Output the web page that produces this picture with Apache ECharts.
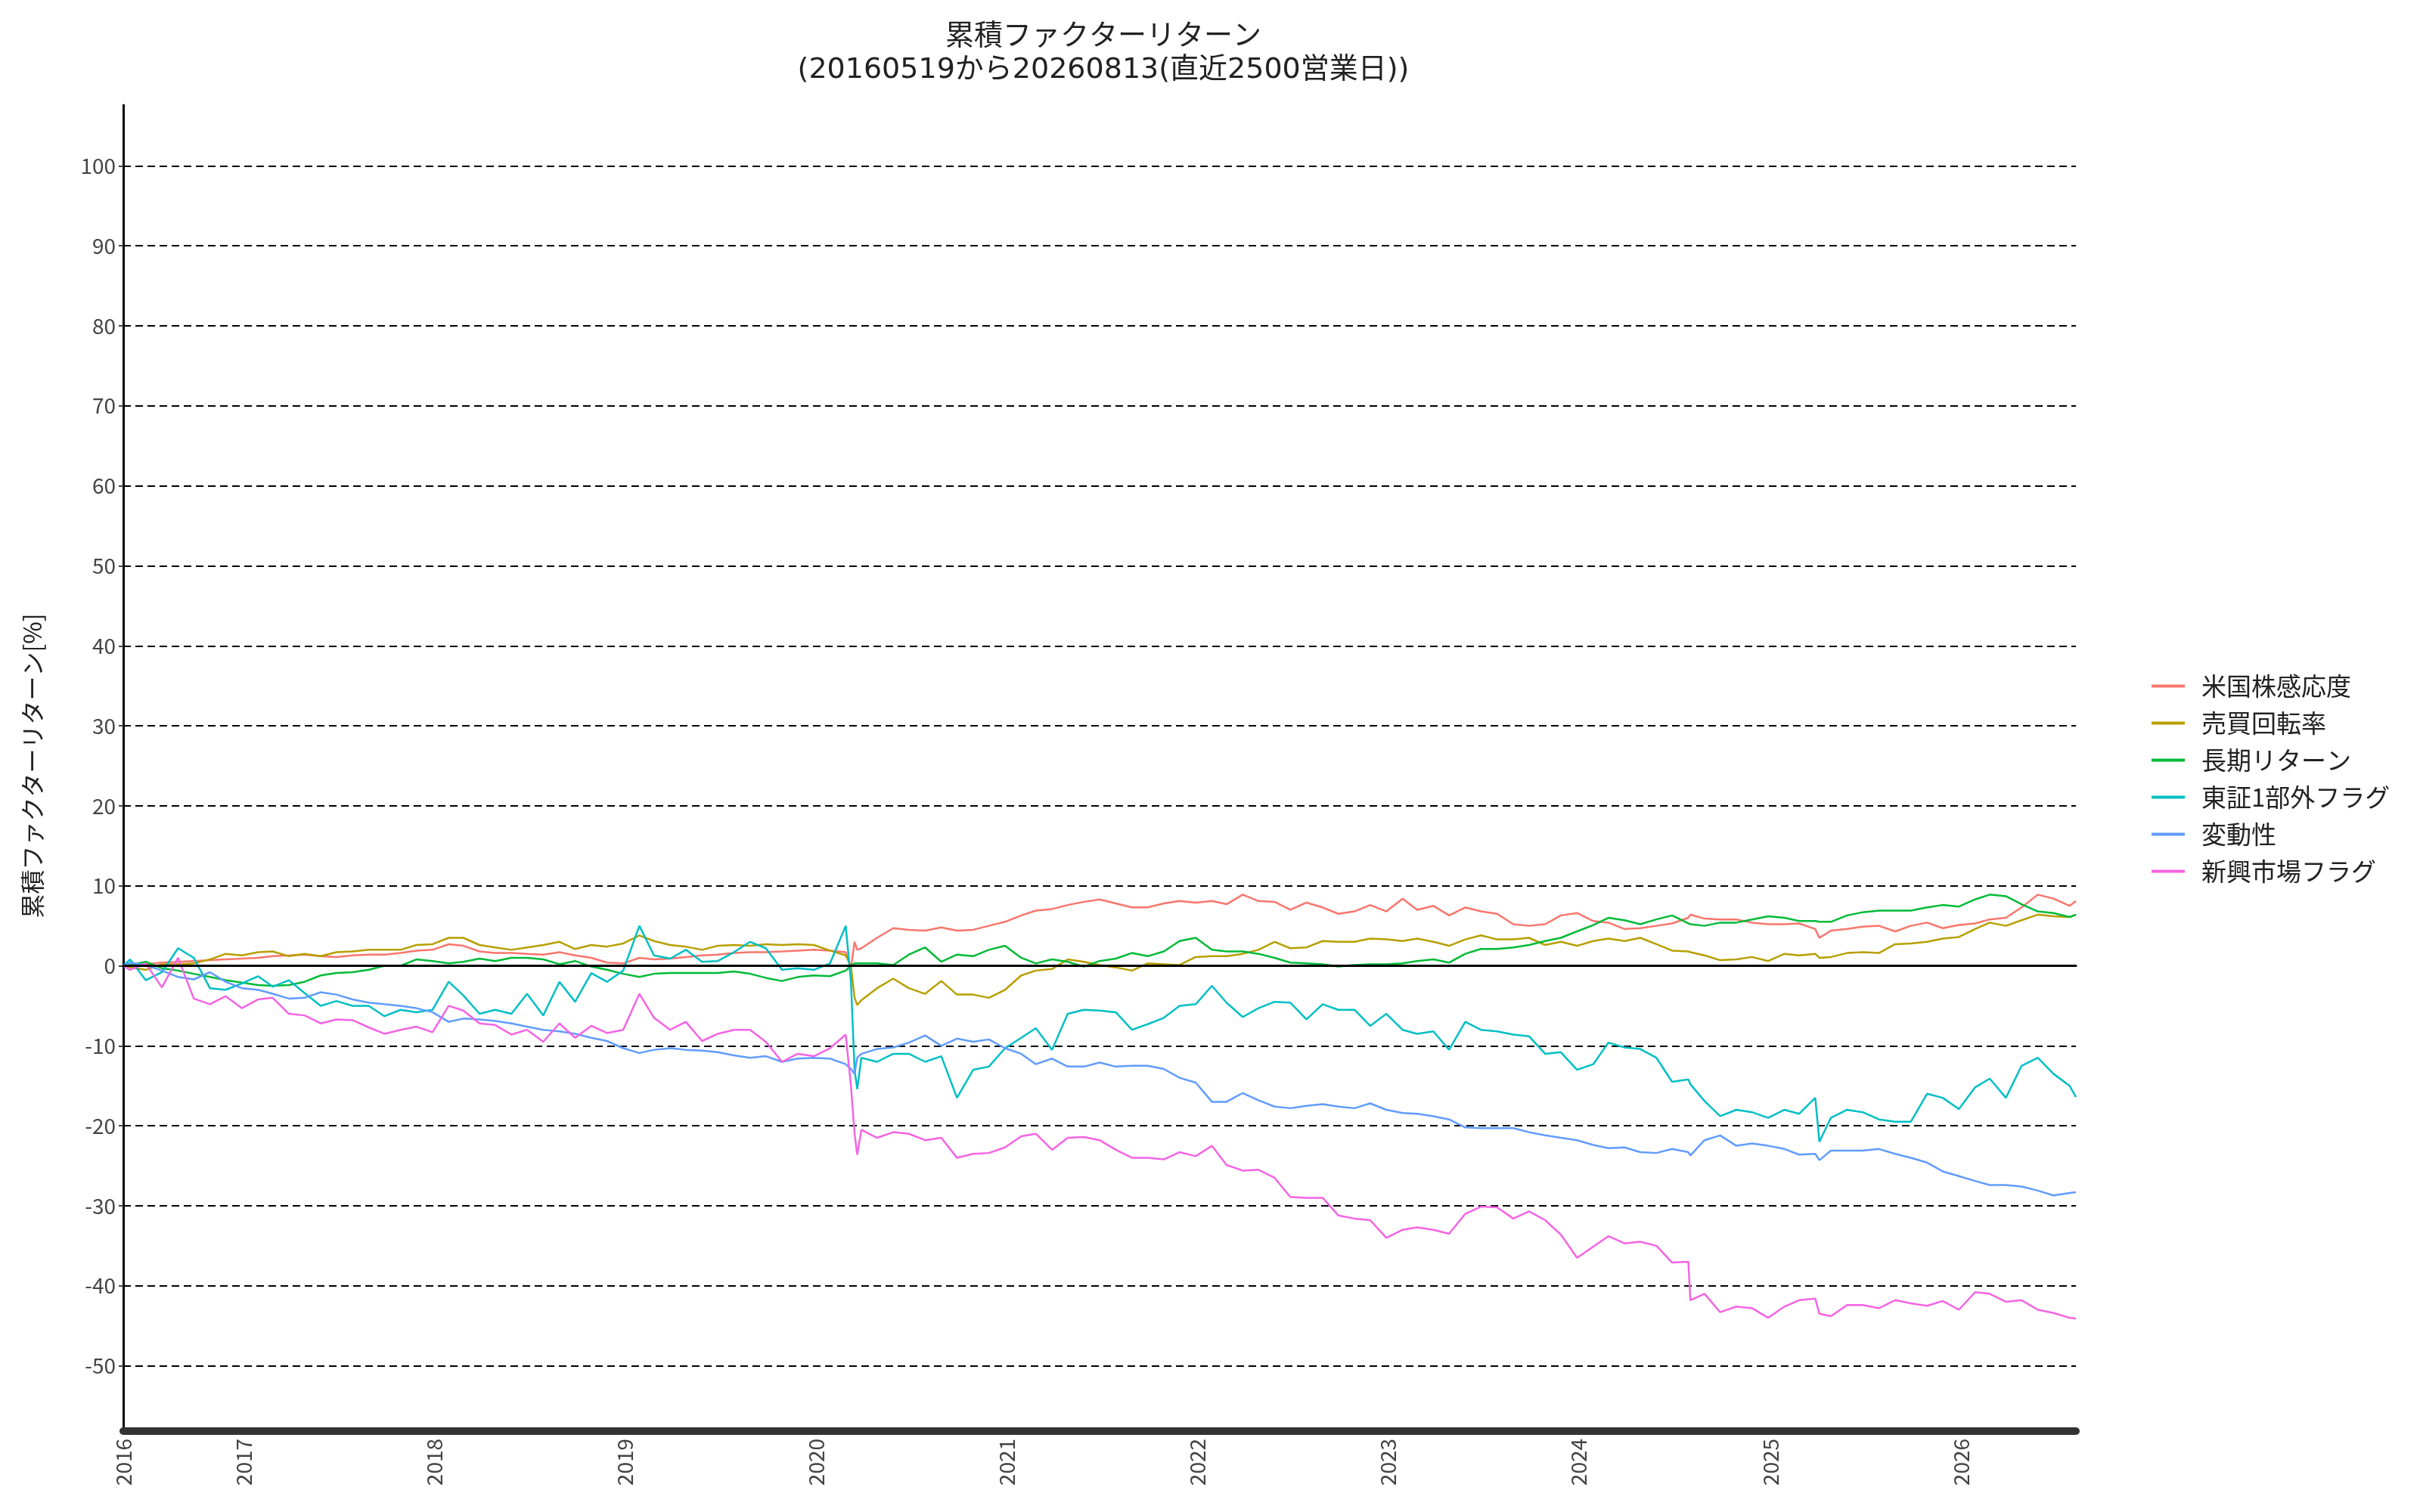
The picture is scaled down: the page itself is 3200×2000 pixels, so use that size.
<!DOCTYPE html>
<html>
<head>
<meta charset="utf-8">
<script src="https://cdn.jsdelivr.net/npm/echarts@6/dist/echarts.min.js"></script>
<style>
html, body { margin: 0; padding: 0; background: #fff; }
#chart { width: 3200px; height: 2000px; }
</style>
</head>
<body>
<div id="chart"></div>
<script>
// 日付 (月初サンプル + 急変日)
var dates = [
  '2016-05-19','2016-06-01','2016-07-01','2016-08-01','2016-09-01','2016-10-01','2016-11-01','2016-12-01',
  '2017-01-01','2017-02-01','2017-03-01','2017-04-01','2017-05-01','2017-06-01','2017-07-01','2017-08-01','2017-09-01','2017-10-01','2017-11-01','2017-12-01',
  '2018-01-01','2018-02-01','2018-03-01','2018-04-01','2018-05-01','2018-06-01','2018-07-01','2018-08-01','2018-09-01','2018-10-01','2018-11-01','2018-12-01',
  '2019-01-01','2019-02-01','2019-03-01','2019-04-01','2019-05-01','2019-06-01','2019-07-01','2019-08-01','2019-09-01','2019-10-01','2019-11-01','2019-12-01',
  '2020-01-01','2020-02-01','2020-03-02','2020-03-12','2020-03-19','2020-03-24','2020-04-01','2020-05-01','2020-06-01','2020-07-01','2020-08-01','2020-09-01','2020-10-01','2020-11-01','2020-12-01',
  '2021-01-01','2021-02-01','2021-03-01','2021-04-01','2021-05-01','2021-06-01','2021-07-01','2021-08-01','2021-09-01','2021-10-01','2021-11-01','2021-12-01',
  '2022-01-01','2022-02-01','2022-03-01','2022-04-01','2022-05-01','2022-06-01','2022-07-01','2022-08-01','2022-09-01','2022-10-01','2022-11-01','2022-12-01',
  '2023-01-01','2023-02-01','2023-03-01','2023-04-01','2023-05-01','2023-06-01','2023-07-01','2023-08-01','2023-09-01','2023-10-01','2023-11-01','2023-12-01',
  '2024-01-01','2024-02-01','2024-03-01','2024-04-01','2024-05-01','2024-06-01','2024-07-01','2024-08-01','2024-08-05','2024-09-01','2024-10-01','2024-11-01','2024-12-01',
  '2025-01-01','2025-02-01','2025-03-01','2025-04-01','2025-04-09','2025-05-01','2025-06-01','2025-07-01','2025-08-01','2025-09-01','2025-10-01','2025-11-01','2025-12-01',
  '2026-01-01','2026-02-01','2026-03-01','2026-04-01','2026-05-01','2026-06-01','2026-07-01','2026-08-01','2026-08-13'
];

var names = ['米国株感応度', '売買回転率', '長期リターン', '東証1部外フラグ', '変動性', '新興市場フラグ'];
var colors = ['#F8766D', '#B79F00', '#00BA38', '#00BFC4', '#619CFF', '#F564E3'];

// 年ラベル位置 (各年の最初の営業日)
var yearTicks = ['2016-05-19','2017-01-04','2018-01-04','2019-01-04','2020-01-06','2021-01-04',
  '2022-01-04','2023-01-04','2024-01-04','2025-01-06','2026-01-05'];

var usBeta = [
  0, 0.1, 0.2, 0.4, 0.5, 0.6, 0.7, 0.8,
  0.9, 1.0, 1.2, 1.3, 1.4, 1.2, 1.1, 1.3, 1.4, 1.4, 1.6, 1.9,
  2.0, 2.7, 2.5, 1.8, 1.6, 1.6, 1.5, 1.4, 1.7, 1.3, 1.0, 0.4,
  0.3, 1.0, 0.8, 0.9, 1.1, 1.3, 1.4, 1.6, 1.7, 1.7, 1.8, 1.9,
  2.0, 1.9, 1.7, -0.3, 3.0, 2.0, 2.2, 3.5, 4.7, 4.5, 4.4, 4.8, 4.4, 4.5, 5.0,
  5.5, 6.3, 6.9, 7.1, 7.6, 8.0, 8.3, 7.8, 7.3, 7.3, 7.8, 8.1,
  7.9, 8.1, 7.7, 8.9, 8.1, 8.0, 7.0, 7.9, 7.3, 6.5, 6.8, 7.6,
  6.8, 8.4, 7.0, 7.5, 6.3, 7.3, 6.8, 6.5, 5.2, 5.0, 5.2, 6.3,
  6.6, 5.6, 5.4, 4.6, 4.7, 5.0, 5.3, 6.0, 6.4, 5.9, 5.8, 5.8, 5.4,
  5.2, 5.2, 5.3, 4.6, 3.5, 4.4, 4.6, 4.9, 5.0, 4.3, 5.0, 5.4, 4.7,
  5.1, 5.3, 5.8, 6.0, 7.3, 8.9, 8.4, 7.5, 8.1
];

var turnover = [
  0, -0.2, -0.5, 0.2, 0.2, 0.3, 0.8, 1.5,
  1.3, 1.7, 1.8, 1.2, 1.5, 1.2, 1.7, 1.8, 2.0, 2.0, 2.0, 2.6,
  2.7, 3.5, 3.5, 2.6, 2.3, 2.0, 2.3, 2.6, 3.0, 2.1, 2.6, 2.4,
  2.8, 3.8, 3.1, 2.6, 2.4, 2.0, 2.5, 2.6, 2.5, 2.7, 2.6, 2.7,
  2.6, 1.9, 1.3, 0.0, -4.0, -4.9, -4.3, -2.8, -1.6, -2.8, -3.5, -1.9, -3.6, -3.6, -4.0,
  -3.0, -1.2, -0.6, -0.4, 0.8, 0.5, 0.1, -0.2, -0.6, 0.3, 0.2, 0.1,
  1.1, 1.2, 1.2, 1.5, 2.0, 3.0, 2.2, 2.3, 3.1, 3.0, 3.0, 3.4,
  3.3, 3.1, 3.4, 3.0, 2.5, 3.3, 3.8, 3.3, 3.3, 3.5, 2.6, 3.0,
  2.5, 3.1, 3.4, 3.1, 3.5, 2.7, 1.9, 1.8, 1.7, 1.3, 0.7, 0.8, 1.1,
  0.6, 1.5, 1.3, 1.5, 1.0, 1.1, 1.6, 1.7, 1.6, 2.7, 2.8, 3.0, 3.4,
  3.6, 4.6, 5.4, 5.0, 5.7, 6.4, 6.2, 6.1, 6.4
];

var longReturn = [
  0, 0.1, 0.5, -0.3, -0.6, -1.0, -1.4, -1.8,
  -2.1, -2.4, -2.5, -2.4, -2.0, -1.2, -0.9, -0.8, -0.5, 0.0, 0.0, 0.8,
  0.6, 0.3, 0.5, 0.9, 0.6, 1.0, 1.0, 0.8, 0.2, 0.6, -0.1, -0.5,
  -1.0, -1.4, -1.0, -0.9, -0.9, -0.9, -0.9, -0.7, -1.0, -1.5, -1.9, -1.4,
  -1.2, -1.3, -0.6, 0.0, 0.3, 0.3, 0.3, 0.3, 0.1, 1.4, 2.3, 0.5, 1.4, 1.2, 2.0,
  2.5, 1.0, 0.3, 0.8, 0.5, -0.1, 0.6, 0.9, 1.6, 1.2, 1.8, 3.1,
  3.5, 2.0, 1.8, 1.8, 1.5, 1.0, 0.4, 0.3, 0.2, -0.1, 0.1, 0.2,
  0.2, 0.3, 0.6, 0.8, 0.4, 1.5, 2.1, 2.1, 2.3, 2.6, 3.1, 3.5,
  4.3, 5.1, 6.0, 5.7, 5.2, 5.8, 6.3, 5.3, 5.2, 5.0, 5.4, 5.4, 5.8,
  6.2, 6.0, 5.6, 5.6, 5.5, 5.5, 6.3, 6.7, 6.9, 6.9, 6.9, 7.3, 7.6,
  7.4, 8.3, 8.9, 8.7, 7.7, 6.8, 6.6, 6.1, 6.4
];

var nonPrime = [
  0, 0.8, -1.8, -0.8, 2.2, 1.0, -2.8, -3.0,
  -2.2, -1.3, -2.6, -1.8, -3.4, -5.0, -4.4, -5.0, -5.0, -6.3, -5.5, -5.8,
  -5.5, -2.0, -3.7, -6.0, -5.5, -6.0, -3.5, -6.2, -2.0, -4.5, -0.9, -2.0,
  -0.6, 5.0, 1.3, 0.9, 2.0, 0.5, 0.6, 1.7, 3.0, 2.2, -0.5, -0.3,
  -0.5, 0.3, 5.0, -2.0, -13.0, -15.4, -11.5, -12.0, -11.0, -11.0, -12.0, -11.3, -16.5, -13.0, -12.6,
  -10.3, -9.0, -7.8, -10.5, -6.0, -5.5, -5.6, -5.8, -8.0, -7.3, -6.5, -5.0,
  -4.8, -2.5, -4.6, -6.4, -5.3, -4.5, -4.6, -6.7, -4.8, -5.5, -5.5, -7.5,
  -6.0, -8.0, -8.5, -8.2, -10.5, -7.0, -8.0, -8.2, -8.6, -8.8, -11.0, -10.8,
  -13.0, -12.3, -9.6, -10.2, -10.4, -11.5, -14.5, -14.2, -14.8, -16.9, -18.8, -18.0, -18.3,
  -19.0, -18.0, -18.5, -16.5, -22.0, -19.0, -18.0, -18.3, -19.2, -19.5, -19.5, -16.0, -16.5,
  -17.9, -15.2, -14.1, -16.5, -12.5, -11.5, -13.5, -15.0, -16.4
];

var volatility = [
  0, 0.4, 0.1, -0.6, -1.4, -1.7, -0.8, -2.0,
  -2.8, -3.0, -3.5, -4.1, -4.0, -3.3, -3.6, -4.2, -4.6, -4.8, -5.0, -5.3,
  -5.8, -7.0, -6.6, -6.7, -6.9, -7.2, -7.6, -8.0, -8.2, -8.5, -9.0, -9.4,
  -10.3, -10.9, -10.5, -10.3, -10.5, -10.6, -10.8, -11.2, -11.5, -11.3, -12.0, -11.6,
  -11.5, -11.6, -12.3, -12.9, -13.5, -11.5, -11.0, -10.4, -10.2, -9.6, -8.7, -10.0, -9.1, -9.5, -9.2,
  -10.3, -11.0, -12.3, -11.6, -12.6, -12.6, -12.1, -12.6, -12.5, -12.5, -12.9, -14.0,
  -14.6, -17.0, -17.0, -15.9, -16.8, -17.6, -17.8, -17.5, -17.3, -17.6, -17.8, -17.2,
  -18.0, -18.4, -18.5, -18.8, -19.2, -20.2, -20.3, -20.3, -20.3, -20.8, -21.2, -21.5,
  -21.8, -22.4, -22.8, -22.7, -23.3, -23.4, -22.9, -23.3, -23.7, -21.8, -21.2, -22.5, -22.2,
  -22.5, -22.9, -23.6, -23.5, -24.3, -23.1, -23.1, -23.1, -22.9, -23.5, -24.0, -24.6, -25.7,
  -26.3, -26.9, -27.4, -27.4, -27.6, -28.1, -28.7, -28.4, -28.3
];

var emerging = [
  0, -0.5, 0.3, -2.7, 1.0, -4.1, -4.8, -3.8,
  -5.3, -4.2, -4.0, -6.0, -6.2, -7.2, -6.7, -6.8, -7.7, -8.5, -8.0, -7.6,
  -8.3, -5.0, -5.6, -7.2, -7.4, -8.6, -8.0, -9.5, -7.2, -9.0, -7.5, -8.4,
  -8.0, -3.5, -6.5, -8.0, -7.0, -9.4, -8.5, -8.0, -8.0, -9.5, -12.0, -11.0,
  -11.3, -10.3, -8.6, -15.0, -21.0, -23.6, -20.5, -21.5, -20.8, -21.0, -21.8, -21.5, -24.0, -23.5, -23.4,
  -22.7, -21.3, -21.0, -23.0, -21.5, -21.4, -21.8, -23.0, -24.0, -24.0, -24.2, -23.3,
  -23.8, -22.5, -24.9, -25.6, -25.5, -26.5, -28.9, -29.0, -29.0, -31.2, -31.6, -31.8,
  -34.0, -33.0, -32.7, -33.0, -33.5, -31.0, -30.1, -30.2, -31.6, -30.7, -31.8, -33.6,
  -36.5, -35.1, -33.8, -34.7, -34.5, -35.0, -37.1, -37.0, -41.8, -41.0, -43.3, -42.6, -42.8,
  -44.0, -42.6, -41.8, -41.6, -43.5, -43.8, -42.4, -42.4, -42.8, -41.8, -42.2, -42.5, -41.9,
  -43.0, -40.8, -41.0, -42.0, -41.8, -43.0, -43.4, -44.0, -44.1
];

var seriesValues = [usBeta, turnover, longReturn, nonPrime, volatility, emerging];

function toTime(d) {
  return new Date(d.replace(/-/g, '/')).getTime();
}

var chart = echarts.init(document.getElementById('chart'));
var font = 'Noto Sans CJK JP';

var series = seriesValues.map(function (vals, k) {
  var s = {
    name: names[k],
    type: 'line',
    symbol: 'none',
    showSymbol: false,
    color: colors[k],
    lineStyle: { width: 2.5, color: colors[k] },
    data: dates.map(function (d, i) { return [toTime(d), vals[i]]; })
  };
  if (k === 0) {
    // ゼロライン
    s.markLine = {
      silent: true,
      symbol: ['none', 'none'],
      label: { show: false },
      lineStyle: { color: '#000', type: 'solid', width: 2 },
      data: [{ yAxis: 0 }]
    };
  }
  return s;
});

var option = {
  backgroundColor: '#fff',
  animation: false,
  textStyle: { fontFamily: font },
  title: {
    text: '累積ファクターリターン\n(20160519から20260813(直近2500営業日))',
    left: 1454,
    top: 22,
    textAlign: 'center',
    textStyle: {
      fontFamily: "'DejaVu Sans', 'Noto Sans CJK JP'",
      fontSize: 38, fontWeight: 'normal', color: '#222', lineHeight: 44
    }
  },
  legend: {
    orient: 'vertical',
    left: 2840,
    top: 886,
    icon: 'rect',
    itemWidth: 44,
    itemHeight: 4,
    itemGap: 16,
    data: names,
    textStyle: { fontFamily: font, fontSize: 33, color: '#222', padding: [0, 0, 0, 17] }
  },
  grid: { left: 163, right: 455, top: 139, bottom: 113 },
  xAxis: [{
    type: 'value',
    min: toTime('2016-05-19'),
    max: toTime('2026-08-13'),
    z: 5,
    axisLine: { show: true, lineStyle: { color: '#000', width: 3 } },
    axisTick: { show: false },
    splitLine: { show: false },
    axisLabel: {
      customValues: yearTicks.map(toTime),
      rotate: 90,
      fontSize: 28,
      color: '#444',
      margin: 16,
      formatter: function (v) { return String(new Date(v).getFullYear()); }
    }
  }, {
    type: 'value',
    min: 0,
    max: 1,
    position: 'bottom',
    offset: 6,
    axisLine: { show: true, lineStyle: { color: '#333', width: 10 } },
    axisTick: { show: false },
    axisLabel: { show: false },
    splitLine: { show: false }
  }],
  yAxis: {
    type: 'value',
    min: -57.6,
    max: 107.6,
    splitNumber: 16,
    minInterval: 10,
    maxInterval: 10,
    name: '累積ファクターリターン[%]',
    nameLocation: 'middle',
    nameRotate: 90,
    nameGap: 104,
    nameTextStyle: { fontFamily: font, fontSize: 32, color: '#222' },
    axisLine: { show: true, lineStyle: { color: '#000', width: 3 } },
    axisTick: { show: true, length: 6, lineStyle: { color: '#444', width: 2 } },
    axisLabel: {
      fontSize: 28,
      color: '#444',
      margin: 10,
      showMinLabel: false,
      showMaxLabel: false,
      formatter: function (v) { return Math.abs(v % 10) < 1e-9 ? String(v) : ''; }
    },
    splitLine: {
      show: true,
      showMinLine: false,
      showMaxLine: false,
      lineStyle: { color: '#000', width: 2, type: [10, 6] }
    }
  },
  series: series
};

chart.setOption(option);
</script>
</body>
</html>
